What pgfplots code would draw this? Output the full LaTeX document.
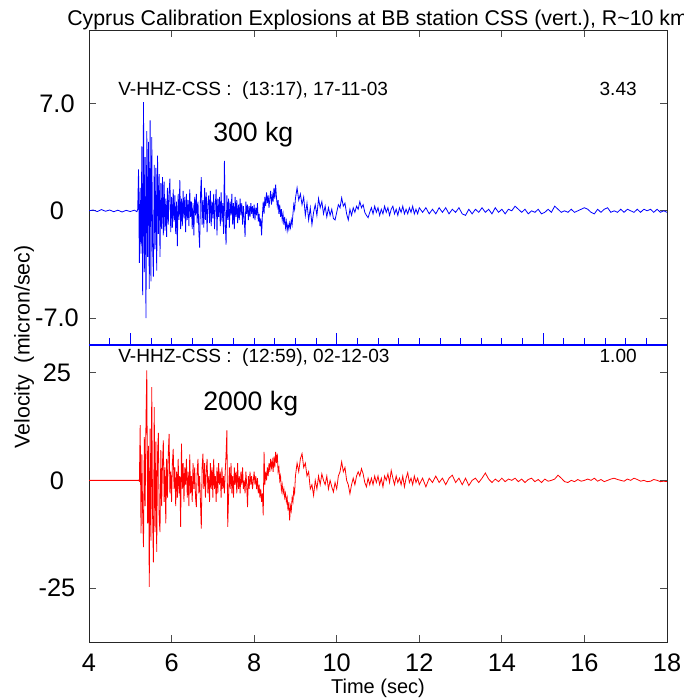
\documentclass[border=0pt]{standalone}
\usepackage{pgfplots}
\pgfplotsset{compat=1.18}
\usepackage{fontspec}
\setmainfont{Liberation Sans}
\begin{document}
\begin{tikzpicture}[x=1pt,y=1pt]
\pgfplotsset{
  seis/.style={
    scale only axis, width=433.5pt, xmin=4, xmax=18,
    axis line style={black!85, line width=0.5pt},
    tick style={black!70, line width=0.6pt},
    tick align=inside, major tick length=5.25pt,
    /pgf/number format/assume math mode=true,
    ticklabel style={font=\fontsize{19pt}{22pt}\selectfont},
    yticklabel style={anchor=center, xshift=-24pt},
    clip=true,
  }
}
% ---------- top panel ----------
\begin{axis}[seis, at={(66.75pt,-22.5pt)}, anchor=north west, height=236.25pt,
  ymin=-8.76, ymax=11.8,
  xtick={6,8,10,12,14,16}, xticklabels={}, xtick pos=right,
  ytick={-7,0,7}, yticklabels={-7.0,0,7.0}]
\addplot[blue, line width=0.6pt] coordinates {
(4.0,0)(4.1,0.05)(4.2,-0.05)(4.3,0.08)(4.4,-0.03)(4.5,0.05)(4.6,-0.06)(4.7,0.04)(4.8,-0.08)(4.9,0.03)(5.0,-0.05)(5.1,0.04)(5.16,-0.06)
(5.18,0.1)(5.20,2.7)(5.22,-3.4)(5.24,1.5)(5.26,-2.8)(5.28,4.2)(5.30,-5.5)(5.32,7.1)(5.34,-4.0)(5.36,3.5)(5.38,-7.0)(5.40,5.2)(5.42,-3.0)(5.44,4.5)(5.46,-5.1)(5.48,5.9)(5.50,-4.6)(5.52,4.8)(5.54,-2.2)(5.56,-4.3)(5.58,3.0)(5.60,-2.5)
(5.62,2.8)(5.64,-3.9)(5.66,3.6)(5.68,-1.5)(5.70,2.4)(5.72,-3.0)(5.74,1.8)(5.76,-1.2)(5.78,2.2)(5.80,-1.6)(5.82,1.9)(5.84,-1.3)(5.86,0.8)(5.88,-1.7)(5.90,1.5)(5.92,-0.9)(5.94,1.2)(5.96,2.1)(5.98,-1.4)(6.00,0.9)
(6.02,-1.1)(6.04,1.4)(6.06,-0.7)(6.08,1.0)(6.10,-1.5)(6.12,0.6)(6.14,-2.3)(6.16,1.1)(6.18,-0.6)(6.20,2.0)(6.22,-1.2)(6.24,0.8)(6.26,-1.0)(6.28,1.3)(6.30,-0.5)(6.32,0.9)(6.34,-1.4)(6.36,1.1)(6.38,-0.6)(6.40,0.7)
(6.42,-1.0)(6.44,1.4)(6.46,-0.4)(6.48,0.6)(6.50,-1.2)(6.52,0.5)(6.54,-1.6)(6.56,0.9)(6.58,-0.3)(6.60,1.1)(6.62,-0.8)(6.64,0.6)(6.66,-1.3)(6.68,-2.4)(6.70,1.0)(6.72,2.2)(6.74,-0.9)(6.76,0.7)(6.78,-1.1)(6.80,1.5)
(6.82,-0.6)(6.84,1.2)(6.86,-1.4)(6.88,0.5)(6.90,1.0)(6.92,-0.8)(6.94,1.3)(6.96,-1.0)(6.98,0.6)(7.00,-0.5)(7.02,1.1)(7.04,-1.2)(7.06,0.4)(7.08,1.4)(7.10,-1.6)(7.12,0.8)(7.14,-0.4)(7.16,0.9)(7.18,-1.0)(7.20,1.2)
(7.22,-0.7)(7.24,0.5)(7.26,-1.5)(7.28,3.25)(7.30,-0.8)(7.32,-2.2)(7.34,1.0)(7.36,-0.6)(7.38,0.8)(7.40,-1.1)(7.42,0.6)(7.44,-0.3)(7.46,1.1)(7.48,-0.9)(7.50,0.5)(7.52,-1.2)(7.54,0.9)(7.56,-0.4)(7.58,0.7)(7.60,-0.8)
(7.62,0.4)(7.64,-0.6)(7.66,0.8)(7.68,-0.3)(7.70,0.5)(7.72,-0.9)(7.74,0.3)(7.76,-0.5)(7.78,-1.7)(7.80,0.6)(7.82,-0.2)(7.84,0.4)(7.86,-0.6)(7.88,0.3)(7.90,-0.4)(7.92,0.5)(7.94,-0.2)(7.96,0.3)(7.98,-0.5)(8.00,0.4)
(8.02,-0.6)(8.04,0.2)(8.06,-0.3)(8.08,0.5)(8.10,-0.7)(8.12,-0.2)(8.14,-1.0)(8.16,-0.5)(8.18,-1.6)(8.20,-0.3)(8.22,0.6)(8.24,-0.2)(8.26,0.9)(8.28,0.3)(8.30,1.2)(8.32,0.5)(8.34,1.0)(8.36,0.2)(8.38,0.8)(8.40,1.3)
(8.42,0.4)(8.44,1.0)(8.46,0.6)(8.48,1.5)(8.50,0.8)(8.52,1.7)(8.54,0.9)(8.56,0.3)(8.58,0.7)(8.60,-0.2)(8.62,0.4)(8.64,-0.4)(8.66,0.1)(8.68,-0.6)(8.70,-0.2)(8.72,-0.9)(8.74,-0.4)(8.76,-1.1)(8.78,-0.7)(8.80,-1.3)
(8.82,-0.9)(8.84,-1.2)(8.86,-0.8)(8.88,-1.1)(8.90,-0.6)(8.92,-0.9)(8.94,-0.2)(8.96,0.4)(8.98,0.1)(9.00,0.8)
(9.04,1.5)(9.08,0.7)(9.12,1.1)(9.16,0.4)(9.20,0.9)(9.24,-0.3)(9.28,0.5)(9.32,-0.6)(9.36,0.2)(9.40,-0.9)(9.44,-0.1)(9.48,0.4)(9.52,-0.3)(9.56,0.8)(9.60,0.2)(9.64,0.6)(9.68,-0.2)(9.72,0.3)(9.76,-0.4)(9.80,0.2)
(9.84,-0.3)(9.88,0.1)(9.92,-0.5)(9.96,-0.6)(10.00,-0.1)(10.04,0.4)(10.08,0.2)(10.12,0.85)(10.16,0.3)(10.20,0.5)(10.24,-0.2)(10.28,-0.6)(10.32,0.1)(10.36,-0.3)(10.40,0.2)(10.44,-0.1)(10.48,0.3)(10.52,0.1)(10.56,0.6)(10.60,0.2)
(10.64,0.4)(10.68,-0.1)(10.72,-0.3)(10.76,-0.45)(10.80,-0.1)(10.84,0.2)(10.88,-0.2)(10.92,0.3)(10.96,-0.1)(11.00,0.2)(11.04,-0.3)(11.08,0.1)(11.12,-0.2)(11.16,0.3)(11.20,-0.1)(11.24,0.2)(11.28,-0.3)(11.32,0.1)(11.36,0.3)(11.40,-0.2)
(11.44,0.1)(11.48,-0.3)(11.52,0.2)(11.56,-0.1)(11.60,0.3)(11.64,-0.2)(11.68,0.1)(11.72,-0.2)(11.76,0.2)(11.80,-0.1)(11.84,0.3)(11.88,-0.2)(11.92,0.1)(11.96,-0.2)(12.00,0.2)
(12.08,-0.1)(12.16,0.2)(12.24,-0.2)(12.32,0.1)(12.40,-0.2)(12.48,0.2)(12.56,-0.1)(12.64,0.2)(12.72,-0.2)(12.80,0.1)(12.88,-0.1)(12.96,0.2)(13.04,-0.2)(13.12,-0.3)(13.20,0.1)(13.28,-0.2)(13.36,0.1)(13.44,-0.1)(13.52,0.2)(13.60,-0.1)
(13.68,0.1)(13.76,-0.2)(13.84,0.2)(13.92,-0.1)(14.00,0.1)(14.08,-0.2)(14.16,0.1)(14.24,0.0)(14.32,0.3)(14.40,0.1)(14.48,-0.1)(14.56,0.1)(14.64,-0.2)(14.72,0.0)(14.80,-0.1)(14.88,0.1)(14.96,-0.2)(15.04,-0.1)(15.12,0.1)(15.20,-0.1)
(15.28,0.3)(15.36,0.1)(15.44,-0.1)(15.52,0.0)(15.60,-0.1)(15.68,0.1)(15.76,-0.1)(15.84,0.0)(15.92,0.1)(16.00,0.2)(16.08,0.1)(16.16,-0.1)(16.24,-0.2)(16.32,0.1)(16.40,-0.1)(16.48,0.1)(16.56,0.2)(16.64,-0.1)(16.72,0.0)(16.80,-0.1)
(16.88,0.1)(16.96,-0.1)(17.04,0.1)(17.12,0.0)(17.20,-0.1)(17.28,0.1)(17.36,-0.1)(17.44,0.1)(17.52,0.0)(17.60,0.1)(17.68,-0.1)(17.76,0.1)(17.84,-0.1)(17.92,0.0)(18.00,-0.1)
};
\end{axis}
% ---------- bottom panel ----------
\begin{axis}[seis, at={(66.75pt,-258.75pt)}, anchor=north west, height=222.75pt,
  ymin=-37.5, ymax=31.4,
  xtick={4,6,8,10,12,14,16,18}, xticklabels={4,6,8,10,12,14,16,18}, xtick pos=left,
  xticklabel style={anchor=center, yshift=-15.4pt},
  ytick={-25,0,25}, yticklabels={-25,0,25}]
\addplot[red, line width=0.6pt] coordinates {
(4.0,0)(4.5,0)(5.0,0)(5.20,0.0)(5.22,-0.2)
(5.24,12.8)(5.26,-12.3)(5.28,6.0)(5.30,-8.0)(5.32,-15.5)(5.34,10.0)(5.36,-6.0)(5.38,14.0)(5.40,25.5)(5.42,-10.0)(5.44,8.0)(5.46,-24.7)(5.48,12.0)(5.50,-14.0)(5.52,21.6)(5.54,-8.0)(5.56,-19.0)(5.58,17.0)(5.60,-12.0)
(5.62,9.0)(5.64,-16.6)(5.66,6.0)(5.68,11.0)(5.70,-9.0)(5.72,-12.0)(5.74,7.0)(5.76,-6.0)(5.78,4.0)(5.80,9.3)(5.82,-5.0)(5.84,3.0)(5.86,-10.0)(5.88,5.0)(5.90,-4.0)(5.92,6.0)(5.94,10.8)(5.96,-3.0)(5.98,2.0)(6.00,-5.0)
(6.02,4.0)(6.04,7.3)(6.06,-2.0)(6.08,3.0)(6.10,-6.0)(6.12,2.0)(6.14,-4.0)(6.16,5.0)(6.18,-3.0)(6.20,1.0)(6.22,-10.8)(6.24,8.5)(6.26,-2.0)(6.28,4.0)(6.30,-5.0)(6.32,3.0)(6.34,-1.0)(6.36,5.0)(6.38,-4.0)(6.40,2.0)
(6.42,-6.0)(6.44,6.0)(6.46,-3.0)(6.48,1.0)(6.50,-5.0)(6.52,4.0)(6.54,-2.0)(6.56,3.0)(6.58,-4.0)(6.60,-6.2)(6.62,2.0)(6.64,5.0)(6.66,-3.0)(6.68,1.0)(6.70,-5.0)(6.72,-11.2)(6.74,3.0)(6.76,6.2)(6.78,-2.0)(6.80,4.0)
(6.82,-4.0)(6.84,2.0)(6.86,5.0)(6.88,-3.0)(6.90,1.0)(6.92,-5.0)(6.94,4.0)(6.96,-2.0)(6.98,3.0)(7.00,-4.0)(7.02,5.0)(7.04,-2.0)(7.06,1.0)(7.08,-5.0)(7.10,3.0)(7.12,-3.0)(7.14,4.0)(7.16,-1.0)(7.18,2.0)(7.20,-4.0)
(7.22,3.0)(7.24,-2.0)(7.26,1.0)(7.28,-3.0)(7.30,2.0)(7.32,6.0)(7.34,11.6)(7.36,-10.8)(7.38,-4.0)(7.40,3.0)(7.42,-2.0)(7.44,4.0)(7.46,-3.0)(7.48,1.0)(7.50,-4.0)(7.52,3.0)(7.54,-1.0)(7.56,2.0)(7.58,-3.0)(7.60,4.0)
(7.62,-2.0)(7.64,1.0)(7.66,-3.0)(7.68,2.0)(7.70,-1.0)(7.72,3.0)(7.74,-2.0)(7.76,0.0)(7.78,-3.0)(7.80,2.0)(7.82,-1.0)(7.84,-6.2)(7.86,1.0)(7.88,-2.0)(7.90,2.0)(7.92,-1.0)(7.94,1.0)(7.96,-2.0)(7.98,0.0)(8.00,2.0)
(8.02,-1.0)(8.04,1.0)(8.06,-2.0)(8.08,0.5)(8.10,-3.0)(8.12,-1.0)(8.14,-4.0)(8.16,-2.0)(8.18,-5.0)(8.20,-3.0)(8.22,-8.1)(8.24,6.6)(8.26,-1.0)(8.28,2.0)(8.30,0.0)(8.32,3.0)(8.34,1.0)(8.36,4.0)(8.38,2.0)(8.40,5.0)
(8.42,3.0)(8.44,4.5)(8.46,2.0)(8.48,5.5)(8.50,3.0)(8.52,6.6)(8.54,4.0)(8.56,6.2)(8.58,2.0)(8.60,3.0)(8.62,0.0)(8.64,1.0)(8.66,-2.3)(8.68,-1.0)(8.70,-3.0)(8.72,-2.0)(8.74,-4.0)(8.76,-3.0)(8.78,-5.0)(8.80,-4.0)
(8.82,-7.0)(8.84,-5.0)(8.86,-9.3)(8.88,-6.0)(8.90,-7.0)(8.92,-4.0)(8.94,-5.0)(8.96,-2.0)(8.98,-3.0)(9.00,1.0)
(9.04,4.0)(9.08,2.0)(9.12,5.0)(9.16,6.2)(9.20,3.0)(9.24,4.0)(9.28,1.0)(9.32,2.0)(9.36,-2.0)(9.40,-1.0)(9.44,-3.5)(9.48,0.0)(9.52,-2.0)(9.56,1.0)(9.60,-1.0)(9.64,1.5)(9.68,0.0)(9.72,-1.0)(9.76,1.0)(9.80,-2.0)
(9.84,0.0)(9.88,-1.5)(9.92,-2.7)(9.96,-0.5)(10.00,-2.0)(10.04,1.0)(10.08,2.0)(10.12,4.3)(10.16,2.0)(10.20,3.0)(10.24,0.0)(10.28,-1.0)(10.32,-3.1)(10.36,-1.0)(10.40,0.5)(10.44,-1.0)(10.48,1.0)(10.52,2.0)(10.56,1.0)(10.60,2.7)
(10.64,1.5)(10.68,-0.5)(10.72,-1.5)(10.76,0.5)(10.80,-1.0)(10.84,0.5)(10.88,-1.0)(10.92,1.0)(10.96,-0.5)(11.00,1.0)(11.04,-1.0)(11.08,0.5)(11.12,-1.5)(11.16,1.0)(11.20,0.0)(11.24,1.5)(11.28,-0.5)(11.32,2.3)(11.36,0.5)(11.40,-1.0)
(11.44,1.0)(11.48,-0.5)(11.52,0.5)(11.56,-1.0)(11.60,1.0)(11.64,-1.5)(11.68,0.5)(11.72,1.8)(11.76,-0.5)(11.80,0.5)(11.84,-1.0)(11.88,1.0)(11.92,-0.5)(11.96,0.5)(12.00,-1.0)
(12.08,0.5)(12.16,-1.5)(12.24,0.5)(12.32,-0.5)(12.40,1.0)(12.48,-0.5)(12.56,0.5)(12.64,-1.0)(12.72,0.5)(12.80,1.2)(12.88,-0.5)(12.96,0.5)(13.04,-1.0)(13.12,0.5)(13.20,-1.2)(13.28,0.0)(13.36,0.5)(13.44,-0.5)(13.52,0.5)(13.60,1.7)
(13.68,0.3)(13.76,-0.5)(13.84,0.3)(13.92,-0.3)(14.00,0.5)(14.08,-0.3)(14.16,0.3)(14.24,0.0)(14.32,0.5)(14.40,-0.3)(14.48,0.3)(14.56,-0.5)(14.64,0.2)(14.72,0.5)(14.80,-0.3)(14.88,0.2)(14.96,-0.5)(15.04,0.3)(15.12,-0.2)(15.20,0.0)
(15.28,0.3)(15.36,1.2)(15.44,0.5)(15.52,-0.3)(15.60,-0.5)(15.68,0.0)(15.76,-0.3)(15.84,0.2)(15.92,-0.2)(16.00,0.0)(16.08,0.3)(16.16,0.0)(16.24,0.5)(16.32,-0.2)(16.40,0.2)(16.48,-0.3)(16.56,0.0)(16.64,0.3)(16.72,0.5)(16.80,0.2)
(16.88,0.0)(16.96,-0.2)(17.04,0.3)(17.12,0.0)(17.20,0.5)(17.28,0.2)(17.36,-0.2)(17.44,0.0)(17.52,-0.3)(17.60,-0.2)(17.68,0.2)(17.76,0.0)(17.84,-0.3)(17.92,-0.2)(18.00,-0.3)
};
\end{axis}
% ---------- blue time-tick line between the panels ----------
\begin{axis}[scale only axis, width=433.5pt, height=236.25pt, at={(66.75pt,-22.5pt)}, anchor=north west,
  xmin=4, xmax=18, ymin=0, ymax=1,
  axis x line=bottom, axis y line=none,
  x axis line style={blue, line width=0.8pt, -},
  xtick={5,10,15}, xticklabels={},
  minor xtick={4.5,5.5,6,6.5,7,7.5,8,8.5,9,9.5,10.5,11,11.5,12,12.5,13,13.5,14,14.5,15.5,16,16.5,17,17.5},
  tick align=inside, major tick length=9pt, minor tick length=5.25pt,
  major tick style={blue, line width=0.6pt}, minor tick style={blue, line width=0.6pt}]
\end{axis}
% ---------- texts ----------
\node[anchor=base west, inner sep=0pt, font=\fontsize{16pt}{19pt}\selectfont] at (50.25pt,-18.75pt)
  {Cyprus Calibration Explosions at BB station CSS (vert.), R\textasciitilde10 km};
\node[anchor=base west, inner sep=0pt, font=\fontsize{14.3pt}{17pt}\selectfont] at (88.5pt,-71.25pt)
  {V-HHZ-CSS :\ \ (13:17), 17-11-03};
\node[anchor=base east, inner sep=0pt, font=\fontsize{14.3pt}{17pt}\selectfont] at (477.75pt,-71.25pt) {3.43};
\node[anchor=base west, inner sep=0pt, font=\fontsize{14.3pt}{17pt}\selectfont] at (88.5pt,-271.9pt)
  {V-HHZ-CSS :\ \ (12:59), 02-12-03};
\node[anchor=base east, inner sep=0pt, font=\fontsize{14.3pt}{17pt}\selectfont] at (477.75pt,-271.9pt) {1.00};
\node[anchor=base west, inner sep=0pt, font=\fontsize{20pt}{24pt}\selectfont] at (159.75pt,-105.75pt) {300 kg};
\node[anchor=base west, inner sep=0pt, font=\fontsize{20pt}{24pt}\selectfont] at (152.25pt,-307.5pt) {2000 kg};
\node[rotate=90, inner sep=0pt, font=\fontsize{16pt}{19pt}\selectfont] at (18pt,-260.25pt) {Velocity\ \ (micron/sec)};
\node[inner sep=0pt, font=\fontsize{15pt}{18pt}\selectfont] at (283.5pt,-516pt) {Time (sec)};
\pgfresetboundingbox
\useasboundingbox (0,0) rectangle (512.25pt,-525pt);
\end{tikzpicture}
\end{document}
